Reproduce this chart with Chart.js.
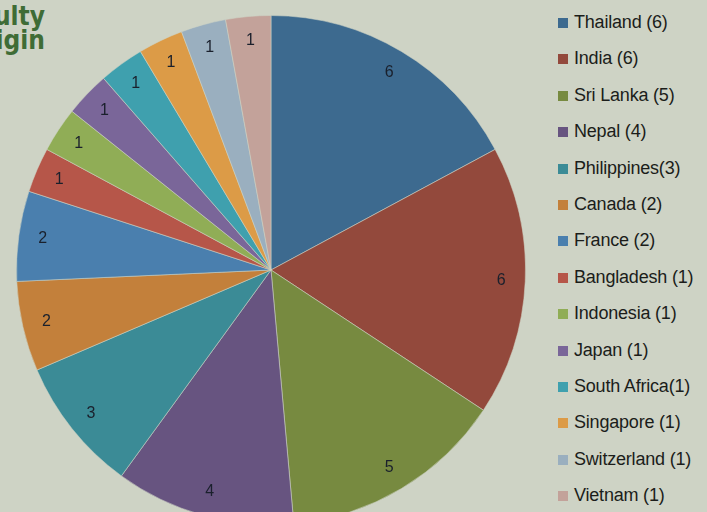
<!DOCTYPE html>
<html>
<head>
<meta charset="utf-8">
<script src="https://cdn.jsdelivr.net/npm/chart.js@4/dist/chart.umd.min.js"></script>
<style>
  html, body {
    margin: 0;
    padding: 0;
    width: 707px;
    height: 512px;
    overflow: hidden;
    background: #ced3c5;
    font-family: "Liberation Sans", Arial, sans-serif;
  }
  .title {
    position: absolute;
    right: 662px;
    top: 4px;
    width: 400px;
    text-align: right;
    color: #3f6c36;
    font-family: "Liberation Sans Narrow", "DejaVu Sans Condensed", sans-serif;
    font-weight: bold;
    font-size: 26px;
    line-height: 24px;
    white-space: nowrap;
  }
  .pie {
    position: absolute;
    left: 16px;
    top: 15px;
    width: 510px;
    height: 510px;
  }
  .legend {
    position: absolute;
    left: 558px;
    top: 12px;
    margin: 0;
    padding: 0;
    list-style: none;
  }
  .legend li {
    height: 36.4px;
    line-height: 20px;
    font-size: 18px;
    letter-spacing: -0.2px;
    color: #1b1d1a;
    white-space: nowrap;
  }
  .legend span {
    display: inline-block;
    width: 10px;
    height: 10px;
    margin-right: 6px;
    vertical-align: 0px;
  }
</style>
</head>
<body>
<div class="title">International Faculty<br>Country of Origin</div>
<div class="pie"><canvas id="pie"></canvas></div>
<ul class="legend" id="legend"></ul>

<script>
// Countries, in the order the slices run clockwise from 12 o'clock.
var countries = ['Thailand', 'India', 'Sri Lanka', 'Nepal', 'Philippines', 'Canada', 'France',
                 'Bangladesh', 'Indonesia', 'Japan', 'South Africa', 'Singapore', 'Switzerland', 'Vietnam'];

// Number of faculty per country.
var counts = [6, 6, 5, 4, 3, 2, 2, 1, 1, 1, 1, 1, 1, 1];

// Slice colours, same order as above.
var colors = ['#3d6a8f', '#93493c', '#778a40', '#675480', '#3b8b96', '#c3803b', '#4a7fae',
              '#b65649', '#90ad56', '#7a6699', '#3fa0ae', '#dc9b47', '#9aafbf', '#c3a29a'];

// Legend text differs slightly in spacing from plain "name (n)".
var legendLabels = ['Thailand (6)', 'India (6)', 'Sri Lanka (5)', 'Nepal (4)', 'Philippines(3)',
                    'Canada (2)', 'France (2)', 'Bangladesh (1)', 'Indonesia (1)', 'Japan (1)',
                    'South Africa(1)', 'Singapore (1)', 'Switzerland (1)', 'Vietnam (1)'];

// Writes each slice's value near its outer edge.
var sliceLabels = {
  id: 'sliceLabels',
  afterDatasetsDraw: function(chart) {
    var ctx = chart.ctx;
    var meta = chart.getDatasetMeta(0);
    ctx.save();
    ctx.font = '16px "Liberation Sans", Arial, sans-serif';
    ctx.fillStyle = '#1a202c';
    ctx.textAlign = 'center';
    ctx.textBaseline = 'middle';
    meta.data.forEach(function(arc, i) {
      var p = arc.getProps(['x', 'y', 'startAngle', 'endAngle', 'outerRadius'], true);
      var mid = (p.startAngle + p.endAngle) / 2;
      var r = p.outerRadius * 0.905;
      ctx.fillText(String(counts[i]), p.x + Math.cos(mid) * r, p.y + Math.sin(mid) * r);
    });
    ctx.restore();
  }
};

new Chart(document.getElementById('pie'), {
  type: 'pie',
  data: {
    labels: countries,
    datasets: [{
      data: counts,
      backgroundColor: colors,
      borderColor: 'rgba(206,211,197,0.55)',
      borderWidth: 1
    }]
  },
  options: {
    responsive: true,
    maintainAspectRatio: false,
    animation: false,
    layout: { padding: 0 },
    plugins: {
      legend: { display: false },
      tooltip: { enabled: false }
    }
  },
  plugins: [sliceLabels]
});

// Build the legend on the right from the same arrays.
var legend = document.getElementById('legend');
for (var i = 0; i < countries.length; i++) {
  var li = document.createElement('li');
  var box = document.createElement('span');
  box.style.background = colors[i];
  li.appendChild(box);
  li.appendChild(document.createTextNode(legendLabels[i]));
  legend.appendChild(li);
}
</script>
</body>
</html>
